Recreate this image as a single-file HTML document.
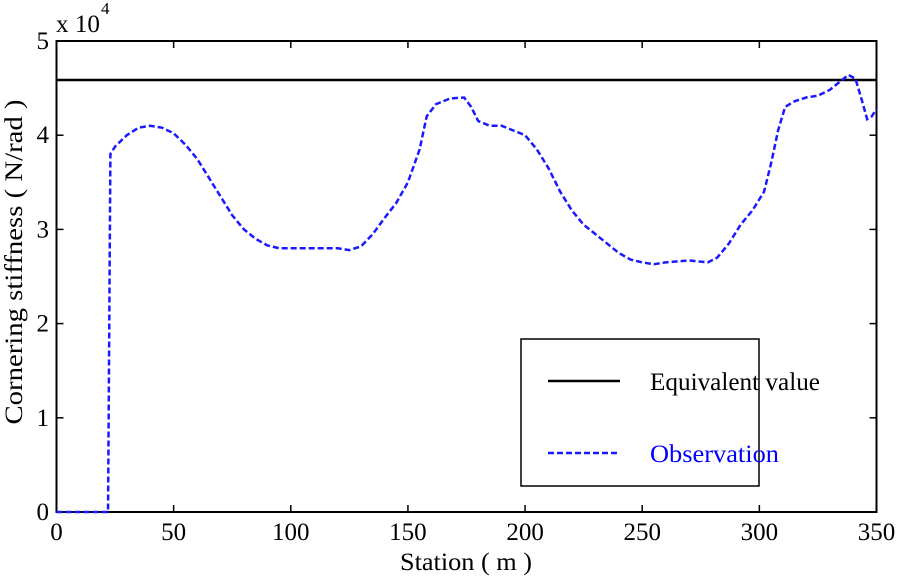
<!DOCTYPE html><html><head><style>body{margin:0;background:#fff}svg{display:block}text{font-family:"Liberation Serif",serif;font-size:25px}</style></head><body>
<svg id="s" width="898" height="578" xmlns="http://www.w3.org/2000/svg">
<rect x="56.5" y="41" width="820" height="471" fill="#fff" stroke="#000" stroke-width="2"/>
<g id="ticks" stroke="#000" stroke-width="1.5"></g>
<g id="lbl" fill="#000"></g>
<line x1="56.5" y1="80" x2="876.5" y2="80" stroke="#000" stroke-width="2.5"/>
<polyline id="obs" fill="none" stroke="#1a1aff" stroke-width="2.5" stroke-dasharray="6,3"/>
<rect x="521" y="339" width="238" height="147" fill="#fff" stroke="#000" stroke-width="1.5"/>
<line x1="548" y1="381" x2="620" y2="381" stroke="#000" stroke-width="2.5"/>
<text x="650" y="390" textLength="170" lengthAdjust="spacingAndGlyphs">Equivalent value</text>
<line x1="548" y1="453" x2="620" y2="453" stroke="#1a1aff" stroke-width="2.5" stroke-dasharray="6,3"/>
<text x="650" y="462" fill="#0000ff" textLength="129" lengthAdjust="spacingAndGlyphs">Observation</text>
<text x="56" y="32" textLength="44" lengthAdjust="spacingAndGlyphs">x 10</text><text x="101" y="14" style="font-size:17px">4</text>
<text x="466" y="570" text-anchor="middle" textLength="132" lengthAdjust="spacingAndGlyphs">Station ( m )</text>
<text transform="translate(22,262) rotate(-90)" text-anchor="middle" textLength="325" lengthAdjust="spacingAndGlyphs">Cornering stiffness ( N/rad )</text>
</svg>
<script>
var X=v=>56.5+v*820/350,Y=v=>512-v*94.2;
var t=document.getElementById('ticks'),l=document.getElementById('lbl'),h='',g='';
for(var i=0;i<=350;i+=50){var x=X(i);h+=`<line x1="${x}" y1="512" x2="${x}" y2="505"/><line x1="${x}" y1="41" x2="${x}" y2="48"/>`;g+=`<text x="${x}" y="540" text-anchor="middle">${i}</text>`;}
for(var j=0;j<=5;j++){var y=Y(j);h+=`<line x1="56.5" y1="${y}" x2="63.5" y2="${y}"/><line x1="876.5" y1="${y}" x2="869.5" y2="${y}"/>`;g+=`<text x="49" y="${y+8}" text-anchor="end">${j}</text>`;}
t.innerHTML=h;l.innerHTML=g;
var d=[[0,0],[22,0],[23,3.8],[25,3.88],[30,4.0],[35,4.08],[40,4.1],[45,4.08],[50,4.02],[55,3.9],[60,3.75],[65,3.55],[70,3.35],[75,3.15],[80,3.0],[85,2.9],[90,2.83],[95,2.8],[100,2.8],[110,2.8],[120,2.8],[125,2.78],[130,2.82],[135,2.95],[140,3.12],[145,3.28],[150,3.5],[155,3.85],[158,4.2],[162,4.33],[168,4.39],[174,4.4],[177,4.3],[180,4.15],[185,4.1],[190,4.1],[195,4.05],[200,4.0],[205,3.85],[210,3.65],[215,3.4],[220,3.2],[225,3.05],[230,2.95],[235,2.85],[240,2.75],[245,2.68],[250,2.65],[255,2.63],[260,2.65],[270,2.67],[278,2.65],[282,2.7],[287,2.85],[292,3.05],[297,3.2],[302,3.4],[305,3.7],[308,4.05],[311,4.3],[315,4.36],[320,4.4],[325,4.42],[330,4.48],[335,4.58],[338,4.64],[341,4.6],[344,4.35],[346,4.17],[348,4.2],[350,4.28]];
document.getElementById('obs').setAttribute('points',d.map(p=>X(p[0])+','+Y(p[1])).join(' '));
</script></body></html>
